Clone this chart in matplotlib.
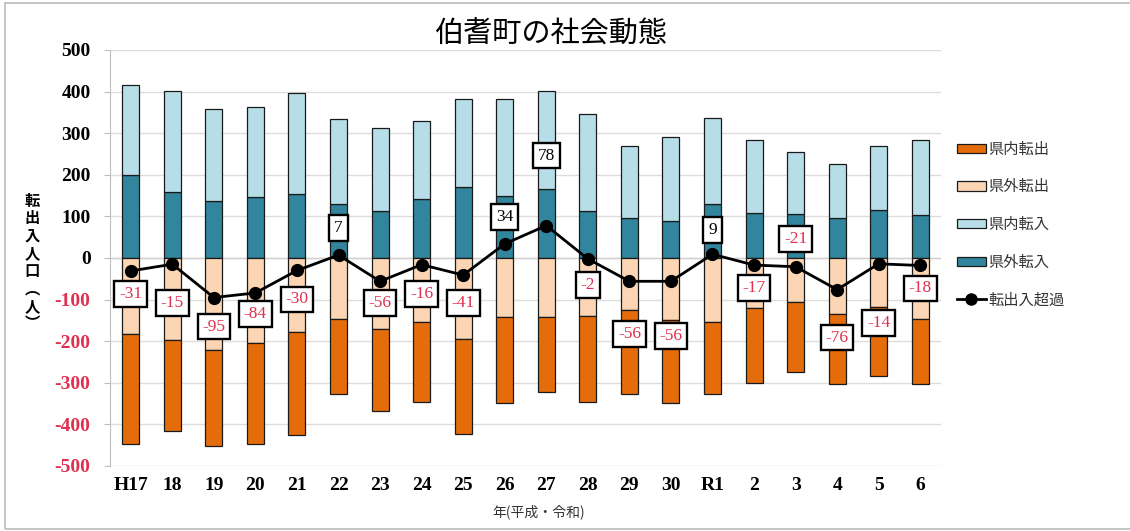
import matplotlib
matplotlib.use('Agg')
import matplotlib.pyplot as plt
from matplotlib.patches import Patch, Rectangle
from matplotlib.lines import Line2D
import numpy as np

plt.rcParams['font.family'] = ['Noto Sans CJK JP', 'DejaVu Sans']

# 年（平成・令和）
years = ['H17', '18', '19', '20', '21', '22', '23', '24', '25', '26',
         '27', '28', '29', '30', 'R1', '2', '3', '4', '5', '6']
# 転入（人）
kengai_tennyu = [200, 159, 138, 147, 154, 130, 113, 143, 171, 150,
                 166, 112, 97, 89, 130, 107, 105, 97, 115, 104]
kennai_tennyu = [215, 243, 220, 217, 242, 203, 199, 187, 211, 232,
                 235, 233, 173, 203, 206, 177, 149, 129, 155, 180]
# 転出（人）
kengai_tenshutsu = [182, 197, 222, 205, 179, 146, 171, 154, 195, 143,
                    143, 139, 124, 149, 154, 121, 106, 135, 118, 146]
kennai_tenshutsu = [264, 220, 231, 243, 247, 180, 197, 192, 228, 205,
                    180, 208, 202, 199, 173, 180, 169, 167, 166, 156]
# 転出入超過（人）
net = [-31, -15, -95, -84, -30, 7, -56, -16, -41, 34,
       78, -2, -56, -56, 9, -17, -21, -76, -14, -18]

# ラベルの縦位置（ピクセル）
label_dy = [-23, -39, -29, -21, -29, 27, -22, -29, -28, 27,
            70, -26, -53, -55, 24, -23, 28, -48, -59, -23]

c_kennai_out = '#E46C0A'
c_kengai_out = '#FCD5B5'
c_kennai_in = '#B7DEE8'
c_kengai_in = '#31859C'
red = '#E0304F'

fig = plt.figure(figsize=(11.3, 5.31), dpi=100)
ax = fig.add_axes([110 / 1130, 1 - 466 / 531, 831 / 1130, 416 / 531])

x = np.arange(len(years))
w = 0.41
ec = '#1a1a1a'
ax.bar(x, kengai_tennyu, w, color=c_kengai_in, edgecolor=ec, lw=0.9, zorder=2)
ax.bar(x, kennai_tennyu, w, bottom=kengai_tennyu, color=c_kennai_in, edgecolor=ec, lw=0.9, zorder=2)
out1 = -np.array(kengai_tenshutsu)
out2 = -np.array(kennai_tenshutsu)
ax.bar(x, out1, w, color=c_kengai_out, edgecolor=ec, lw=0.9, zorder=2)
ax.bar(x, out2, w, bottom=out1, color=c_kennai_out, edgecolor=ec, lw=0.9, zorder=2)

ax.plot(x, net, color='black', lw=2, marker='o', ms=8.5, zorder=4)

for i, v in enumerate(net):
    ax.annotate(str(v), (i, v), xytext=(0, label_dy[i]), textcoords='offset pixels',
                ha='center', va='center', fontsize=12.5, family='Liberation Serif',
                color=red if v < 0 else 'black', zorder=5,
                bbox=dict(boxstyle='square,pad=0.28', fc='white', ec='black', lw=1.7))

ax.set_xlim(-0.5, len(years) - 0.5)
ax.set_ylim(-500, 500)
ax.set_yticks(range(-500, 501, 100))
ax.set_yticklabels([str(t) for t in range(-500, 501, 100)])
for lab, t in zip(ax.get_yticklabels(), range(-500, 501, 100)):
    lab.set_color(red if t < 0 else 'black')
ax.set_xticks(x)
ax.set_xticklabels(years)
for lab in ax.get_xticklabels() + ax.get_yticklabels():
    lab.set_family('Liberation Serif')
    lab.set_fontsize(14)
    lab.set_fontweight('bold')
ax.tick_params(axis='y', length=4, color='#BFBFBF', pad=10)
ax.tick_params(axis='x', length=0, pad=8)

ax.grid(axis='y', color='#DDDDDD', lw=1, zorder=0)
ax.set_axisbelow(True)
for s in ['top', 'right', 'bottom']:
    ax.spines[s].set_visible(False)
ax.spines['left'].set_color('#BFBFBF')
ax.axhline(0, color='#D0D0D0', lw=1, zorder=1)

fig.text(551 / 1130, 1 - 35 / 531, '伯耆町の社会動態', ha='center', va='center', fontsize=21)
fig.text(539 / 1130, 1 - 512 / 531, '年(平成・令和)', ha='center', va='center', fontsize=10,
         color='#333333')
fig.text(32 / 1130, 1 - 262 / 531, '\n'.join('転出入人口︵人︶'), ha='center', va='center',
         fontsize=11, fontweight='bold', linespacing=1.12)

handles = [Patch(fc=c_kennai_out, ec=ec, lw=0.9),
           Patch(fc=c_kengai_out, ec=ec, lw=0.9),
           Patch(fc=c_kennai_in, ec=ec, lw=0.9),
           Patch(fc=c_kengai_in, ec=ec, lw=0.9),
           Line2D([], [], color='black', lw=2, marker='o', ms=8)]
labels = ['県内転出', '県外転出', '県内転入', '県外転入', '転出入超過']
fig.legend(handles, labels, loc='upper left', bbox_to_anchor=(943 / 1130, 1 - 127 / 531),
           frameon=False, fontsize=11, labelspacing=1.35, handlelength=1.9,
           handleheight=0.55, handletextpad=0.15, labelcolor='#333333')

fig.add_artist(Rectangle((5 / 1130, 2 / 531), 1130 / 1130, 526 / 531, transform=fig.transFigure,
                         fill=False, ec='#BBBBBB', lw=1.2))

fig.savefig('out.png', dpi=100)
